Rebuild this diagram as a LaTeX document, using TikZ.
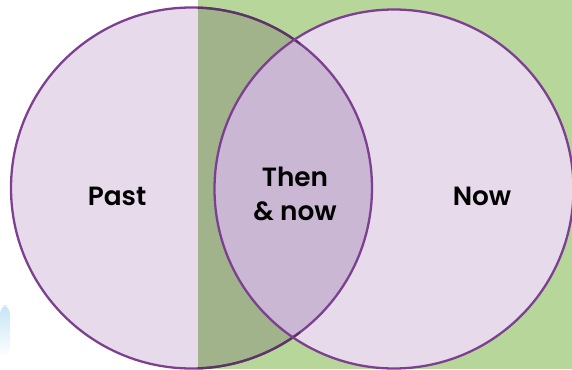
\documentclass[tikz,border=0pt]{standalone}
\usepackage{fontspec}
\setmainfont{Poppins}[BoldFont={Poppins SemiBold}]
\definecolor{bggreen}{HTML}{B6D69A}
\definecolor{pastfill}{HTML}{E6DAEB}
\definecolor{olivefill}{HTML}{A0B38B}
\definecolor{lensfill}{HTML}{C9B7D4}
\definecolor{ringline}{HTML}{7D3F8F}
\definecolor{ringdark}{HTML}{5B3563}
\definecolor{tabblue}{HTML}{C4E5F6}

\begin{document}
\begin{tikzpicture}[x=0.02cm, y=0.02cm,
    ring/.style={draw=ringline, line width=1.3pt},
    every node/.style={font=\bfseries\fontsize{15}{19}\selectfont, align=center}]
  \useasboundingbox (0,0) rectangle (572,369);
  \fill[bggreen] (198,0) rectangle (572,369);
  \shade[top color=tabblue, bottom color=white, rounded corners=5pt]
    (0,12) -- (0,64) -- (10,64) -- (10,12) [sharp corners] -- cycle;

  \coordinate (past c) at (191.5,181);
  \coordinate (now c) at (394,180);

  % past circle, darker where it lies over the green
  \fill[pastfill] (past c) circle (180.5);
  \begin{scope}
    \clip (198,0) rectangle (572,369);
    \fill[olivefill] (past c) circle (180.5);
  \end{scope}
  \fill[pastfill] (now c) circle (179.5);
  \begin{scope}
    \clip (past c) circle (180.5);
    \fill[lensfill] (now c) circle (179.5);
  \end{scope}

  \draw[ring] (past c) circle (180.5);
  \begin{scope}
    \clip (198,0) rectangle (300,369);
    \draw[ring, draw=ringdark] (past c) circle (180.5);
  \end{scope}
  \draw[ring] (now c) circle (179.5);

  \node (past) at (117,173) {Past};
  \node (then) at (295,175) {Then\\\& now};
  \node (now) at (482,173) {Now};
\end{tikzpicture}
\end{document}
